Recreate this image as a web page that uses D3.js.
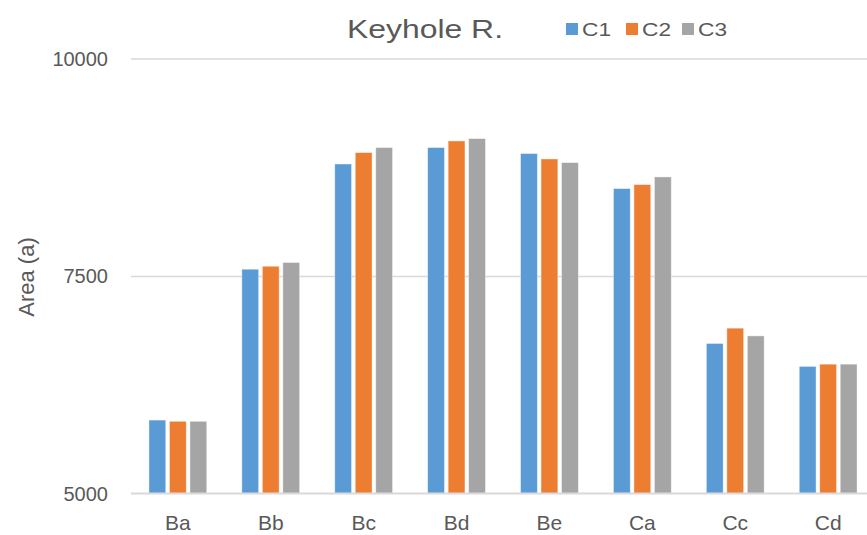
<!DOCTYPE html>
<html><head><meta charset="utf-8">
<script src="https://cdn.jsdelivr.net/npm/d3@7"></script>
<style>body{margin:0;background:#fff}svg{display:block}</style>
</head><body><svg id="c" width="867" height="535"></svg>
<script>
const categories = ["Ba","Bb","Bc","Bd","Be","Ca","Cc","Cd"];
const seriesNames = ["C1","C2","C3"];
const c1 = [5842,7577,8787,8976,8907,8504,6723,6459];
const c2 = [5828,7611,8918,9052,8845,8550,6899,6485];
const c3 = [5828,7654,8976,9079,8803,8638,6810,6485];
const yTicks = [5000,7500,10000];
const colors = ["#5B9BD5","#ED7D31","#A5A5A5"];
const series = [c1,c2,c3];

const svg = d3.select("#c");
const font = "'Liberation Sans', Arial, sans-serif";
const x = d3.scaleBand().domain(categories).range([131.4, 874.6]).paddingInner(0).paddingOuter(0);
const y = d3.scaleLinear().domain([5000,10000]).range([493.3,58.5]);
const xs = d3.scaleBand().domain(seriesNames).range([-28.9,28.9]).paddingInner(0.18);

// gridlines
const grid = svg.append("g").attr("transform","translate(131,0)")
  .call(d3.axisLeft(y).tickValues(yTicks).tickSize(-760).tickFormat(""));
grid.select(".domain").remove();
grid.selectAll("line").attr("stroke","#D9D9D9").attr("stroke-width",1.5);

// y labels
svg.append("g").selectAll("text").data(yTicks).join("text")
  .attr("x",108).attr("y",d=>y(d)).attr("dy","0.36em").attr("text-anchor","end")
  .attr("font-family",font).attr("font-size",20).attr("fill","#595959").text(d=>d);

// bars
series.forEach((s,i)=>{
  svg.append("g").selectAll("rect").data(s).join("rect")
    .attr("x",(d,j)=>x(categories[j])+x.bandwidth()/2+xs(seriesNames[i]))
    .attr("y",d=>y(d)).attr("width",xs.bandwidth()).attr("height",d=>y(5000)-y(d))
    .attr("fill",colors[i]).attr("stroke","#fff").attr("stroke-opacity",0.5).attr("stroke-width",0.8);
});

// x axis line
svg.append("line").attr("x1",131).attr("x2",867).attr("y1",y(5000)).attr("y2",y(5000))
  .attr("stroke","#D9D9D9").attr("stroke-width",1.5);

// x labels
svg.append("g").selectAll("text").data(categories).join("text")
  .attr("x",d=>x(d)+x.bandwidth()/2).attr("y",530).attr("text-anchor","middle")
  .attr("font-family",font).attr("font-size",21).attr("fill","#595959").text(d=>d);

// y title
svg.append("text").attr("transform","translate(34,277) rotate(-90)").attr("text-anchor","middle")
  .attr("font-family",font).attr("font-size",22).attr("fill","#595959").text("Area (a)");

// title
svg.append("text").attr("x",425).attr("y",38).attr("text-anchor","middle")
  .attr("font-family",font).attr("font-size",26).attr("textLength",156).attr("lengthAdjust","spacingAndGlyphs")
  .attr("fill","#595959").text("Keyhole R.");

// legend
const lx = [566,626,682];
seriesNames.forEach((n,i)=>{
  svg.append("rect").attr("x",lx[i]).attr("y",23).attr("width",12).attr("height",12).attr("fill",colors[i]);
  svg.append("text").attr("x",lx[i]+16).attr("y",36).attr("font-family",font).attr("font-size",19)
    .attr("textLength",29).attr("lengthAdjust","spacingAndGlyphs")
    .attr("fill","#595959").text(n);
});
</script></body></html>
